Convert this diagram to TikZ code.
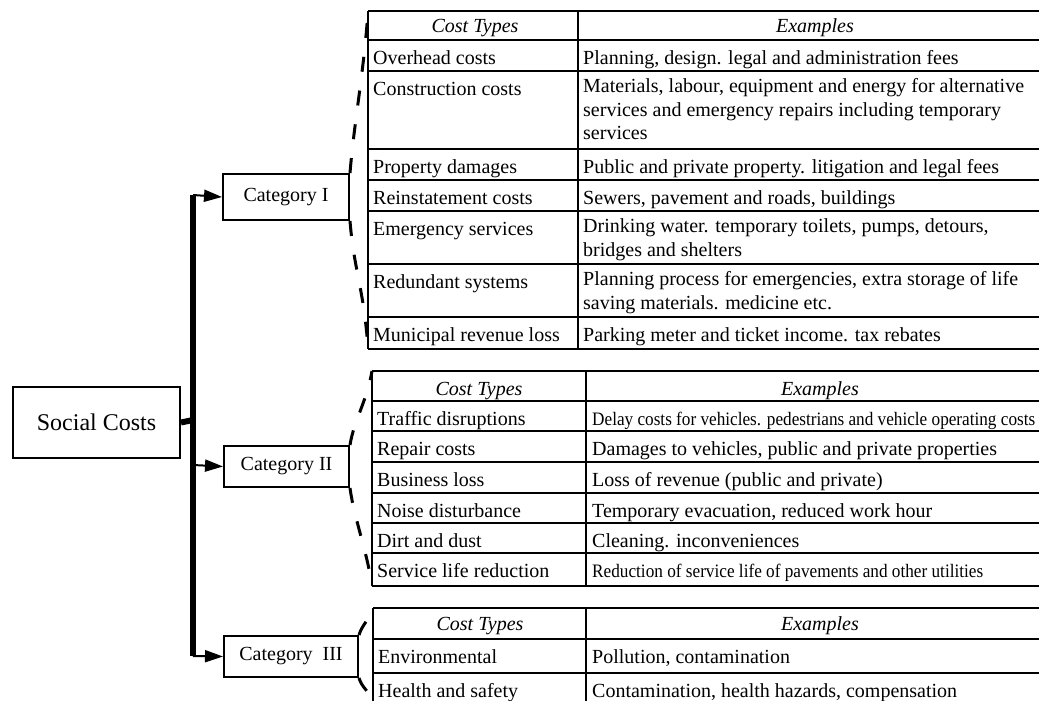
\documentclass[tikz,border=0pt]{standalone}
\usepackage{fontspec}
\setmainfont{Liberation Serif}
\usepackage{graphicx}
\usetikzlibrary{arrows.meta}
\tikzset {>=Triangle}

\begin{document}
\begin{tikzpicture}[x=1pt,y=-1pt,
  catbox/.style={draw,line width=2pt,inner sep=0pt,font=\fontsize{20}{24}\selectfont},
  rule/.style={line width=1.5pt},
  frame/.style={line width=2pt},
  cell/.style={anchor=north west,inner sep=0pt,align=left,font=\fontsize{20}{23.5}\selectfont,execute at begin node=\strut},
  head/.style={anchor=base,inner sep=0pt,font=\fontsize{20}{24}\selectfont\itshape},
  brace/.style={line width=3pt,dash pattern=on 15pt off 19pt},
  spine/.style={line width=6pt},
  arr/.style={line width=2pt,-{Triangle[length=18pt,width=12pt]}}]
\useasboundingbox (0,0) rectangle (1039,701);

% boxes
\node[catbox,minimum width=167pt,minimum height=71pt,anchor=north west,font=\fontsize{24}{28}\selectfont] (soc) at (12,386) {Social Costs};
\node[catbox,minimum width=126pt,minimum height=46pt,anchor=north west] (cat1) at (222,173) {Category I};
\node[catbox,minimum width=125pt,minimum height=41pt,anchor=north west] (cat2) at (223,445) {Category II};
\node[catbox,minimum width=134pt,minimum height=41pt,anchor=north west] (cat3) at (223,635) {Category\ \ III};

% spine and arrows
\coordinate (sp0) at (193,420);
\coordinate (sp1) at (193,195);
\coordinate (sp2) at (193,465);
\coordinate (sp3) at (193,656);
\draw[spine] (soc.east) -- (sp0);
\draw[spine] (sp1) -- (sp3);
\draw[arr] (sp1) -- (cat1.west);
\draw[arr] (sp2) -- (cat2.west);
\draw[arr] (sp3) -- (cat3.west);

% table I
\draw[frame] (368,11) -- (1039,11) (368,349) -- (1039,349) (368,11) -- (368,349);
\draw[rule] (578,11) -- (578,349);
\foreach \y in {40,71,149,180,211,264,317}
  \draw[rule] (368,\y) -- (1039,\y);
\node[head] (h1a) at (475,33) {Cost Types};
\node[head] (h1b) at (815,33) {Examples};
\foreach \y/\a/\b [count=\i] in {
  40/Overhead costs/{Planning, design. legal and administration fees},
  71/Construction costs/{Materials, labour, equipment and energy for alternative\\services and  emergency repairs including temporary\\services},
  149/Property damages/{Public and private property. litigation and legal fees},
  180/Reinstatement costs/{Sewers, pavement and roads, buildings},
  211/Emergency services/{Drinking water. temporary toilets, pumps, detours,\\bridges and shelters},
  264/Redundant systems/{Planning process for emergencies, extra storage of life\\saving materials. medicine etc.},
  317/Municipal revenue loss/{Parking meter and ticket income. tax rebates}} {
  \node[cell] (a1\i) at (373,\y+7.5) {\a};
  \node[cell] (b1\i) at (583,\y+7.5) {\b};
}

% table II
\draw[frame] (372,371) -- (1039,371) (372,586) -- (1039,586) (372,371) -- (372,586);
\draw[rule] (586,371) -- (586,586);
\foreach \y in {401,431,462,493,523,553}
  \draw[rule] (372,\y) -- (1039,\y);
\node[head] (h2a) at (479,395) {Cost Types};
\node[head] (h2b) at (820,395) {Examples};
\foreach \y/\a/\b [count=\i] in {
  401/Traffic disruptions/{\resizebox{443pt}{\height}{\fontsize{19}{22}\selectfont Delay costs for vehicles. pedestrians and vehicle operating costs}},
  431/Repair costs/{Damages to vehicles, public and private properties},
  462/Business loss/{Loss of revenue (public and private)},
  493/Noise disturbance/{Temporary evacuation, reduced work hour},
  523/Dirt and dust/{Cleaning. inconveniences},
  553/Service life reduction/{\resizebox{391pt}{\height}{\fontsize{19}{22}\selectfont Reduction of service life of pavements and other utilities}}} {
  \node[cell] (a2\i) at (377,\y+7.5) {\a};
  \node[cell] (b2\i) at (592,\y+7.5) {\b};
}

% table III
\draw[frame] (373,608) -- (1039,608) (373,608) -- (373,701);
\draw[rule] (586,608) -- (586,701);
\foreach \y in {639,673}
  \draw[rule] (373,\y) -- (1039,\y);
\node[head] (h3a) at (480,630) {Cost Types};
\node[head] (h3b) at (820,630) {Examples};
\foreach \y/\a/\b [count=\i] in {
  639/Environmental/{Pollution, contamination},
  673/Health and safety/{Contamination, health hazards, compensation}} {
  \node[cell] (a3\i) at (378,\y+7.5) {\a};
  \node[cell] (b3\i) at (592,\y+7.5) {\b};
}

% dashed brackets
\coordinate (t1top) at (368,11);
\coordinate (t1bot) at (368,349);
\coordinate (t2top) at (372,371);
\coordinate (t2bot) at (372,586);
\coordinate (t3top) at (373,608);
\coordinate (t3bot) at (373,701);
\draw[brace] (cat1.north east) .. controls +(4,-50) and +(-4,60) .. (t1top);
\draw[brace] (cat1.south east) .. controls +(4,50) and +(-4,-60) .. (t1bot);
\draw[brace] (cat2.north east) .. controls +(4,-25) and +(-5,30) .. (t2top);
\draw[brace] (cat2.south east) .. controls +(4,30) and +(-5,-35) .. (t2bot);
\draw[brace] (cat3.north east) .. controls +(3,-10) and +(-4,12) .. (t3top);
\draw[brace] (cat3.south east) .. controls +(3,10) and +(-4,-10) .. (t3bot);
\end{tikzpicture}
\end{document}
